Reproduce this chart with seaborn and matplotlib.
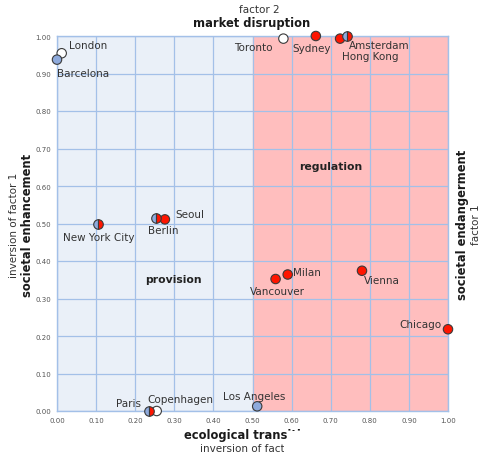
import matplotlib
matplotlib.use("Agg")
import matplotlib.pyplot as plt
import seaborn as sns
import pandas as pd
from matplotlib.patches import Rectangle

cities = ["London", "Barcelona", "Toronto", "Sydney", "Amsterdam", "Hong Kong",
          "New York City", "Berlin", "Seoul", "Vancouver", "Milan", "Vienna",
          "Chicago", "Paris", "Copenhagen", "Los Angeles"]
x_vals = [0.012, 0.0, 0.579, 0.662, 0.742, 0.724,
          0.106, 0.252, 0.276, 0.559, 0.590, 0.780,
          1.0, 0.235, 0.255, 0.512]
y_vals = [0.954, 0.937, 0.993, 1.0, 1.0, 0.993,
          0.50, 0.515, 0.511, 0.352, 0.364, 0.374,
          0.218, 0.0, 0.0, 0.0125]
kinds = ["white", "blue", "white", "red", "half", "red",
         "half", "half", "red", "red", "red", "red",
         "red", "half", "white", "blue"]

# label placement (pixels, dy up) and alignment
label_dx = [7, 0, -11, -4, 2, 2, 0, 8, 10, 2, 5, 2, -6, -8, -9, -3]
label_dy = [8, -13, -8, -12, -9, -17, -13, -12, 5, -12, 2, -9, 5, 8, 12, 10]
label_ha = ["left", "left", "right", "center", "left", "left", "center", "center",
            "left", "center", "left", "left", "right", "right", "left", "center"]

df = pd.DataFrame({"city": cities, "x": x_vals, "y": y_vals, "kind": kinds})

RED = "#ff1500"
BLUE = "#8eaadc"
WHITE = "#ffffff"
EDGE = "#3a3a3a"
GRID = "#a3c0e8"
TXT = "#333333"

sns.set_style("white")
plt.rcParams["font.family"] = ["DejaVu Sans"]

fig = plt.figure(figsize=(4.81, 4.56), dpi=100)
ax = fig.add_axes([57 / 481, 1 - 412 / 456, 391 / 481, 375 / 456])

ax.axvspan(0, 0.5, color="#eaf0f8", zorder=0)
ax.axvspan(0.5, 1.0, color="#ffbebe", zorder=0)

ticks = [i / 10 for i in range(11)]
ax.set_xticks(ticks)
ax.set_yticks(ticks)
ax.set_xticklabels([f"{t:.2f}" for t in ticks])
ax.set_yticklabels([f"{t:.2f}" for t in ticks])
ax.set_xlim(0, 1)
ax.set_ylim(0, 1)
ax.grid(True, color=GRID, linewidth=0.9, zorder=1)
ax.set_axisbelow(True)
for s in ax.spines.values():
    s.set_color(GRID)
    s.set_linewidth(1.0)
ax.tick_params(axis="both", length=0, labelsize=5, labelcolor="#555555", pad=4)

solid = df[df["kind"] != "half"]
sns.scatterplot(data=solid, x="x", y="y", hue="kind",
                palette={"white": WHITE, "blue": BLUE, "red": RED},
                s=46, edgecolor=EDGE, linewidth=0.8, legend=False,
                ax=ax, zorder=5, clip_on=False)

half = df[df["kind"] == "half"]
ax.plot(half["x"], half["y"], "o", fillstyle="left", markersize=6.9,
        markerfacecolor=BLUE, markerfacecoloralt=RED,
        markeredgecolor=EDGE, markeredgewidth=0.8, zorder=6, clip_on=False)
ax.set_xlabel("")
ax.set_ylabel("")

for i, c in enumerate(cities):
    ax.annotate(c, (x_vals[i], y_vals[i]), xytext=(label_dx[i], label_dy[i]),
                textcoords="offset pixels", ha=label_ha[i], va="center",
                fontsize=7.5, color=TXT, zorder=7, annotation_clip=False)

ax.text(0.70, 0.653, "regulation", ha="center", va="center",
        fontsize=7.8, fontweight="bold", color="#222222")
ax.text(0.297, 0.352, "provision", ha="center", va="center",
        fontsize=7.8, fontweight="bold", color="#222222")

W, H = 481, 456
fig.text(259 / W, 1 - 10 / H, "factor 2", ha="center", va="center",
         fontsize=7.5, color=TXT)
fig.text(252 / W, 1 - 23 / H, "market disruption", ha="center", va="center",
         fontsize=8.3, fontweight="bold", color="#1a1a1a")
fig.text(14 / W, 1 - 225 / H, "inversion of factor 1", rotation=90,
         ha="center", va="center", fontsize=7.5, color=TXT)
fig.text(28 / W, 1 - 225 / H, "societal enhancement", rotation=90,
         ha="center", va="center", fontsize=8.3, fontweight="bold", color="#1a1a1a")
fig.text(463 / W, 1 - 225 / H, "societal endangerment", rotation=90,
         ha="center", va="center", fontsize=8.3, fontweight="bold", color="#1a1a1a")
fig.text(476 / W, 1 - 225 / H, "factor 1", rotation=90,
         ha="center", va="center", fontsize=7.5, color=TXT)
fig.text(251 / W, 1 - 436 / H, "ecological transition", ha="center", va="center",
         fontsize=8.3, fontweight="bold", color="#1a1a1a")
fig.text(253 / W, 1 - 449 / H, "inversion of factor 2", ha="center", va="center",
         fontsize=7.5, color=TXT)

# white patch clipping the bottom labels like in the original
fig.patches.append(Rectangle((288 / W, 0), 1, 1 - 432 / H, transform=fig.transFigure,
                             facecolor="white", edgecolor="none", zorder=10))
fig.patches.append(Rectangle((284 / W, 0), 1, 1 - 442 / H, transform=fig.transFigure,
                             facecolor="white", edgecolor="none", zorder=10))

fig.savefig("out.png", dpi=100)
